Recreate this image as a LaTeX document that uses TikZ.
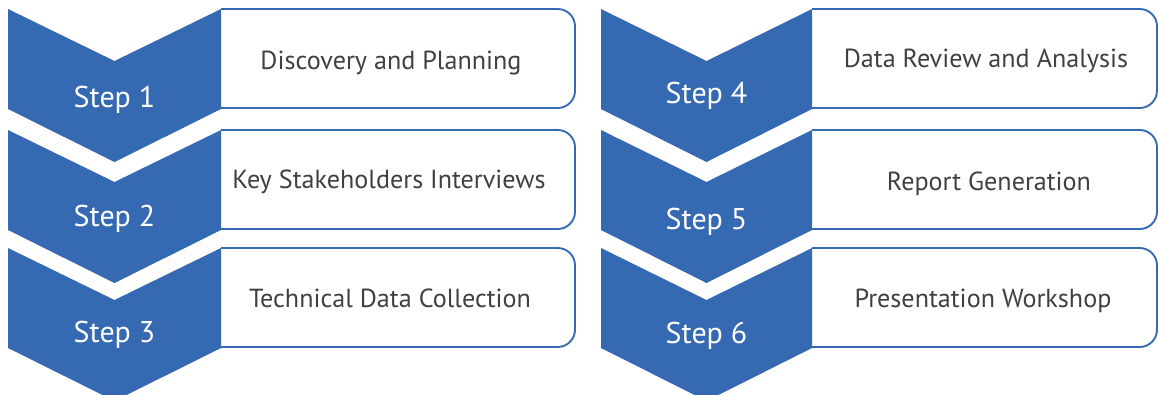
\documentclass[tikz,border=0pt]{standalone}
\usepackage{fontspec}
\setmainfont{PT Sans}
\usetikzlibrary{calc}
\definecolor{stepblue}{HTML}{3569B2}
\definecolor{taskgray}{HTML}{404040}

\begin{document}
\begin{tikzpicture}[x=0.75pt,y=-0.75pt,
  stepbox/.style={draw=stepblue,line width=1.4pt},
  steplabel/.style={anchor=base,text=white,font=\fontsize{22.5}{27}\selectfont,inner sep=0pt},
  tasklabel/.style={anchor=base,text=taskgray,font=\fontsize{19.6}{23}\selectfont,inner sep=0pt}]
\useasboundingbox (0,0) rectangle (1158,394);
\clip (0,0) rectangle (1158,394);
% step / chevron left / chevron right / box right / top / step baseline / task x / task baseline / task
\foreach \n/\xa/\xb/\xr/\t/\sb/\tx/\tb/\task in {
  1/8/221/575/9/107/391/69/Discovery and Planning,
  2/8/221/575/130/226/389/188/Key Stakeholders Interviews,
  3/8/221/575/248/342/390/307/Technical Data Collection,
  4/601/812/1157/9/103/986/67/Data Review and Analysis,
  5/601/812/1157/130/229/989/190/Report Generation,
  6/601/812/1157/248/343/983/307/Presentation Workshop}
{
  \pgfmathsetmacro{\xm}{(\xa+\xb)/2}
  \draw[stepbox] (\xb,\t) [rounded corners=13pt] -- (\xr,\t) -- (\xr,\t+99) [sharp corners] -- (\xb,\t+99);
  \fill[stepblue] (\xa,\t) -- (\xm,\t+52) -- (\xb,\t) -- (\xb,\t+100) -- (\xm,\t+153) -- (\xa,\t+100) -- cycle;
  \node[steplabel] (step\n) at (\xm,\sb) {Step \n};
  \node[tasklabel] (task\n) at (\tx,\tb) {\task};
}
\end{tikzpicture}
\end{document}
